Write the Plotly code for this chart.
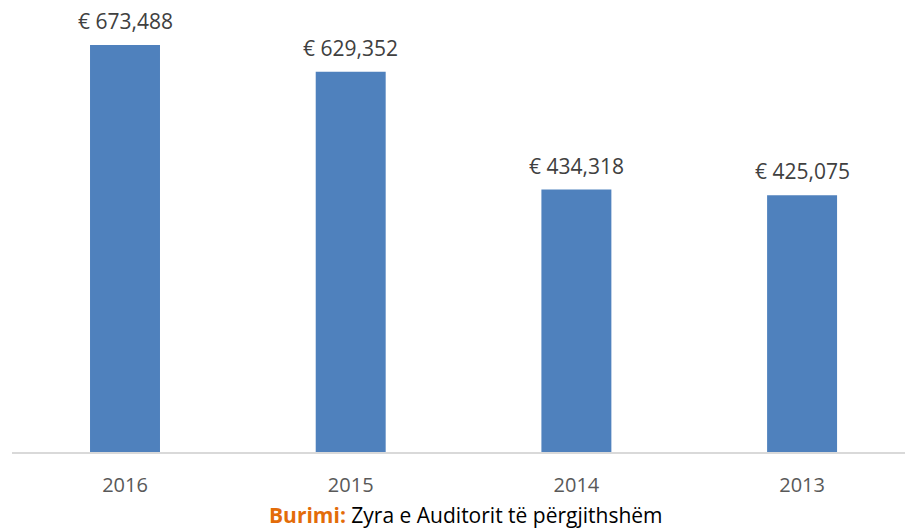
import plotly.graph_objects as go

years = ["2016", "2015", "2014", "2013"]
values = [673488, 629352, 434318, 425075]
labels = ["€ 673,488", "€ 629,352", "€ 434,318", "€ 425,075"]

bar_color = "#4F81BD"
font = "Open Sans"

fig = go.Figure()
fig.add_trace(go.Bar(
    x=years, y=values,
    marker=dict(color=bar_color, line=dict(width=0)),
    width=0.31,
    hoverinfo="skip",
))

for i, (v, t) in enumerate(zip(values, labels)):
    fig.add_annotation(x=i, y=v, text=t, showarrow=False, xref="x", yref="y",
                       yanchor="bottom", yshift=8,
                       font=dict(family=font, size=21, color="#404040"))

fig.add_annotation(
    xref="paper", yref="paper", x=0.508, y=-0.139, xanchor="center", yanchor="middle",
    text="<b><span style='color:#E36C09'>Burimi:</span></b> Zyra e Auditorit të përgjithshëm",
    showarrow=False, font=dict(family=font, size=21, color="#000000"))

fig.update_layout(
    width=905, height=528,
    margin=dict(l=12, r=0, t=0, b=76),
    paper_bgcolor="white", plot_bgcolor="white",
    showlegend=False,
    xaxis=dict(type="category", range=[-0.5007, 3.456], showline=True, linecolor="#D9D9D9",
               linewidth=1.5, showgrid=False, zeroline=False, ticks="",
               tickfont=dict(family=font, size=20, color="#595959"),
               ticklabelstandoff=14, fixedrange=True),
    yaxis=dict(range=[0, 748000], visible=False, showgrid=False, zeroline=False, fixedrange=True),
)

fig.write_html("out.html", config={"displayModeBar": False},
               post_script="document.body.style.margin='0';document.body.style.overflow='hidden';")
